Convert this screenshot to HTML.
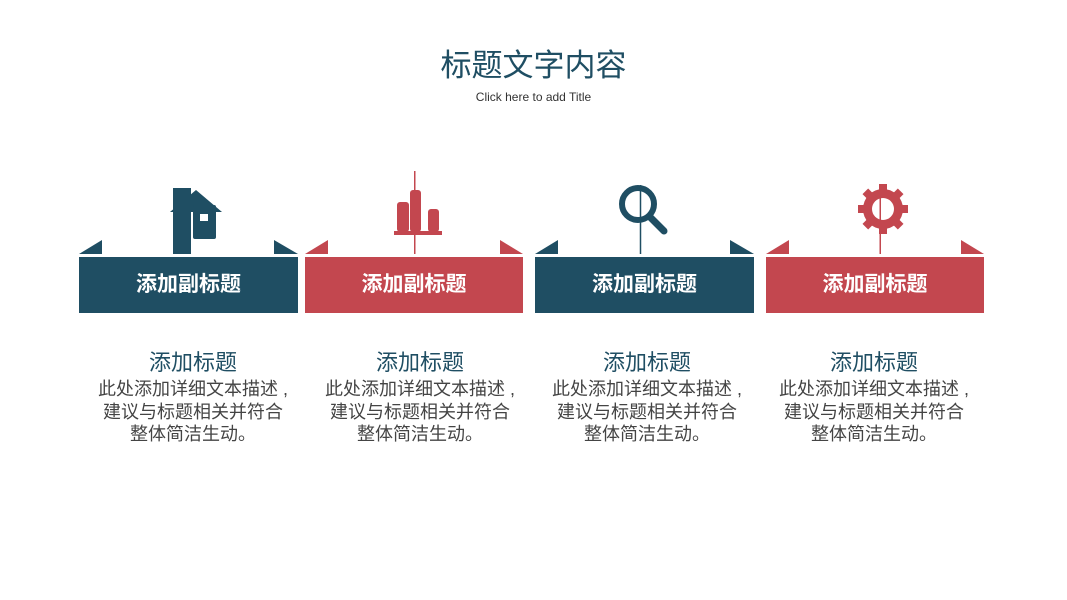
<!DOCTYPE html>
<html><head><meta charset="utf-8"><style>
body{margin:0;width:1067px;height:600px;background:#fff;position:relative;overflow:hidden;font-family:"Liberation Sans","Noto Sans CJK SC",sans-serif}
.a{position:absolute}
.t{position:absolute;left:0;width:1067px;text-align:center}
.box{position:absolute;top:257px;height:56px;color:#fff;font-weight:bold;font-size:21px;line-height:56px;text-align:center}
.col{position:absolute;top:348px;width:230px;text-align:center;color:#444;font-size:18px;line-height:22.5px;white-space:nowrap}
.col b{display:block;font-weight:normal;color:#1f4e63;font-size:22px;line-height:30px}
</style></head><body>
<div class="t" style="top:40px;font-size:31px;color:#1f4e63">标题文字内容</div>
<div class="t" style="top:90px;font-size:12px;color:#333">Click here to add Title</div>

<div class="box" style="left:79px;width:219px;background:#1f4e63">添加副标题</div>
<div class="box" style="left:305px;width:218px;background:#c3474f">添加副标题</div>
<div class="box" style="left:535px;width:219px;background:#1f4e63">添加副标题</div>
<div class="box" style="left:766px;width:218px;background:#c3474f">添加副标题</div>

<svg class="a" style="left:0;top:0" width="1067" height="260">
<g fill="#1f4e63">
<polygon points="79,254 102,240 102,254"/><polygon points="274,240 274,254 298,254"/>
<polygon points="535,254 558,240 558,254"/><polygon points="730,240 730,254 754,254"/>
</g>
<g fill="#c3474f">
<polygon points="305,254 328,240 328,254"/><polygon points="500,240 500,254 523,254"/>
<polygon points="766,254 789,240 789,254"/><polygon points="961,240 961,254 984,254"/>
</g>
<g fill="#1f4e63">
<rect x="173" y="188" width="18" height="66"/>
<polygon points="170,212 196,190 222,212"/>
<rect x="193" y="205" width="23" height="34" rx="2"/>
<rect x="200" y="214" width="8" height="7" fill="#fff"/>
</g>
<g fill="#c3474f">
<rect x="414" y="171" width="1.5" height="83"/>
<rect x="397" y="202" width="12" height="30" rx="3"/>
<rect x="410" y="190" width="11" height="42" rx="3"/>
<rect x="428" y="209" width="11" height="23" rx="3"/>
<rect x="394" y="231" width="48" height="4"/>
</g>
<g stroke="#1f4e63" fill="none">
<circle cx="638" cy="204" r="16" stroke-width="6"/>
<line x1="650" y1="217" x2="664" y2="231" stroke-width="7" stroke-linecap="round"/>
<line x1="640.5" y1="185" x2="640.5" y2="254" stroke-width="1.5"/>
</g>
<g fill="#c3474f">
<circle cx="883" cy="209" r="20"/>
<rect x="879" y="184" width="8" height="50"/>
<rect x="879" y="184" width="8" height="50" transform="rotate(45 883 209)"/>
<rect x="879" y="184" width="8" height="50" transform="rotate(90 883 209)"/>
<rect x="879" y="184" width="8" height="50" transform="rotate(135 883 209)"/>
<circle cx="883" cy="209" r="11" fill="#fff"/>
<rect x="879.5" y="186" width="1.5" height="68"/>
</g>
</svg>

<div class="col" style="left:78px"><b>添加标题</b>此处添加详细文本描述 ,<br>建议与标题相关并符合<br>整体简洁生动。</div>
<div class="col" style="left:305px"><b>添加标题</b>此处添加详细文本描述 ,<br>建议与标题相关并符合<br>整体简洁生动。</div>
<div class="col" style="left:532px"><b>添加标题</b>此处添加详细文本描述 ,<br>建议与标题相关并符合<br>整体简洁生动。</div>
<div class="col" style="left:759px"><b>添加标题</b>此处添加详细文本描述 ,<br>建议与标题相关并符合<br>整体简洁生动。</div>
</body></html>
